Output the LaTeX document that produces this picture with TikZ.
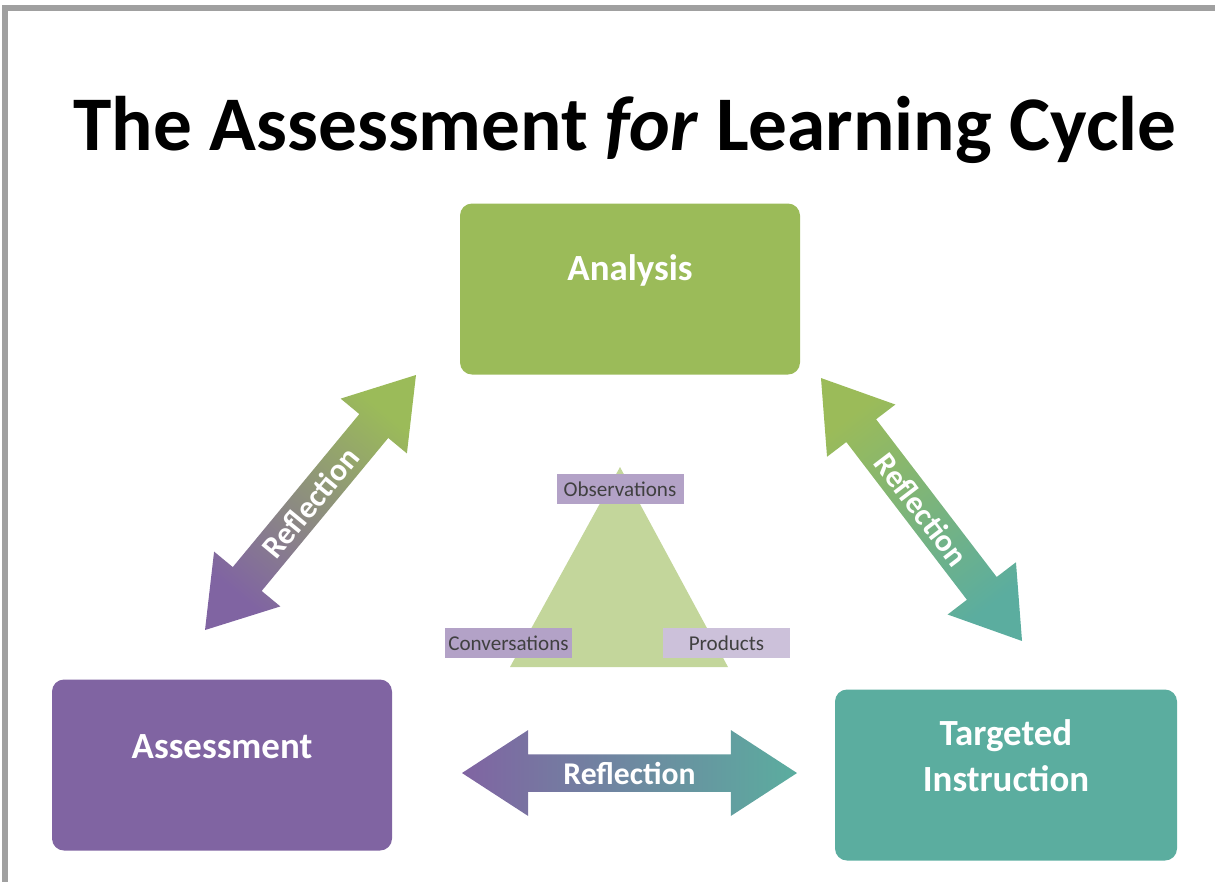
\documentclass[tikz,border=0pt]{standalone}
\usepackage{fontspec}
\setmainfont{Carlito}
\usetikzlibrary{shapes, shapes.arrows, positioning}
\definecolor{boxGreen}{HTML}{9BBB59}
\definecolor{boxPurple}{HTML}{8064A2}
\definecolor{boxTeal}{HTML}{5BAD9F}
\definecolor{triGreen}{HTML}{C3D69B}
\definecolor{tagPurple}{HTML}{B3A2C7}
\definecolor{tagLight}{HTML}{CCC1DA}
\definecolor{tagText}{HTML}{404040}
\definecolor{frameGray}{HTML}{A0A0A0}

\begin{document}
\begin{tikzpicture}[
  stagebox/.style={rectangle, rounded corners=0.12cm, minimum width=3.4cm, minimum height=1.71cm},
  stagetext/.style={text=white, font=\fontsize{10.5}{13}\selectfont\bfseries, align=center},
  reflarrow/.style={double arrow, double arrow head extend=0.2cm, double arrow tip angle=66,
    minimum width=0.86cm, minimum height=3.31cm, inner sep=1pt, text=white,
    font=\fontsize{9}{11}\selectfont\bfseries},
  tag/.style={rectangle, minimum width=1.27cm, minimum height=0.30cm, inner sep=0pt,
    text=tagText, font=\fontsize{6}{7}\selectfont}
]
  \useasboundingbox (0,0) rectangle (12.15,-8.82);

  % frame
  \coordinate (frameTR) at (12.15,-0.08);
  \coordinate (frameTL) at (0.05,-0.08);
  \coordinate (frameBL) at (0.05,-8.82);
  \draw[frameGray, line width=0.06cm] (frameTR) -- (frameTL) -- (frameBL);

  % title
  \node[anchor=base, font=\fontsize{22}{26}\selectfont\bfseries] (title) at (6.25,-1.50)
    {The Assessment \textit{for} Learning Cycle};

  % stages
  \node[stagebox, fill=boxGreen] (analysis) at (6.30,-2.89) {};
  \node[stagebox, fill=boxPurple] (assessment) at (2.22,-7.65) {};
  \node[stagebox, fill=boxTeal, minimum width=3.42cm] (targeted) at (10.06,-7.75) {};
  \node[stagetext] (analysisText) at ([yshift=0.19cm]analysis.center) {Analysis};
  \node[stagetext] (assessmentText) at ([yshift=0.18cm]assessment.center) {Assessment};
  \node[stagetext] (targetedText) at ([yshift=0.19cm]targeted.center) {Targeted\\Instruction};

  % reflection arrows
  \node[reflarrow, rotate=50.4, bottom color=boxPurple, top color=boxGreen, shading angle=-39.6] (reflLeft) at (3.105,-5.025) {Reflection};
  \node[reflarrow, rotate=-52.6, bottom color=boxTeal, top color=boxGreen, shading angle=37.4] (reflRight) at (9.215,-5.095) {Reflection};
  \node[reflarrow, minimum height=3.35cm, left color=boxPurple, right color=boxTeal] (reflBottom) at (6.295,-7.73) {Reflection};

  % evidence triangle
  \coordinate (triTop) at (6.20,-4.67);
  \coordinate (triLeft) at (5.10,-6.67);
  \coordinate (triRight) at (7.28,-6.67);
  \fill[triGreen] (triTop) -- (triLeft) -- (triRight) -- cycle;

  \node[tag, fill=tagPurple] (observations) at (6.20,-4.89) {Observations};
  \node[tag, fill=tagPurple] (conversations) at (5.085,-6.43) {Conversations};
  \node[tag, fill=tagLight] (products) at (7.265,-6.43) {Products};
\end{tikzpicture}
\end{document}
